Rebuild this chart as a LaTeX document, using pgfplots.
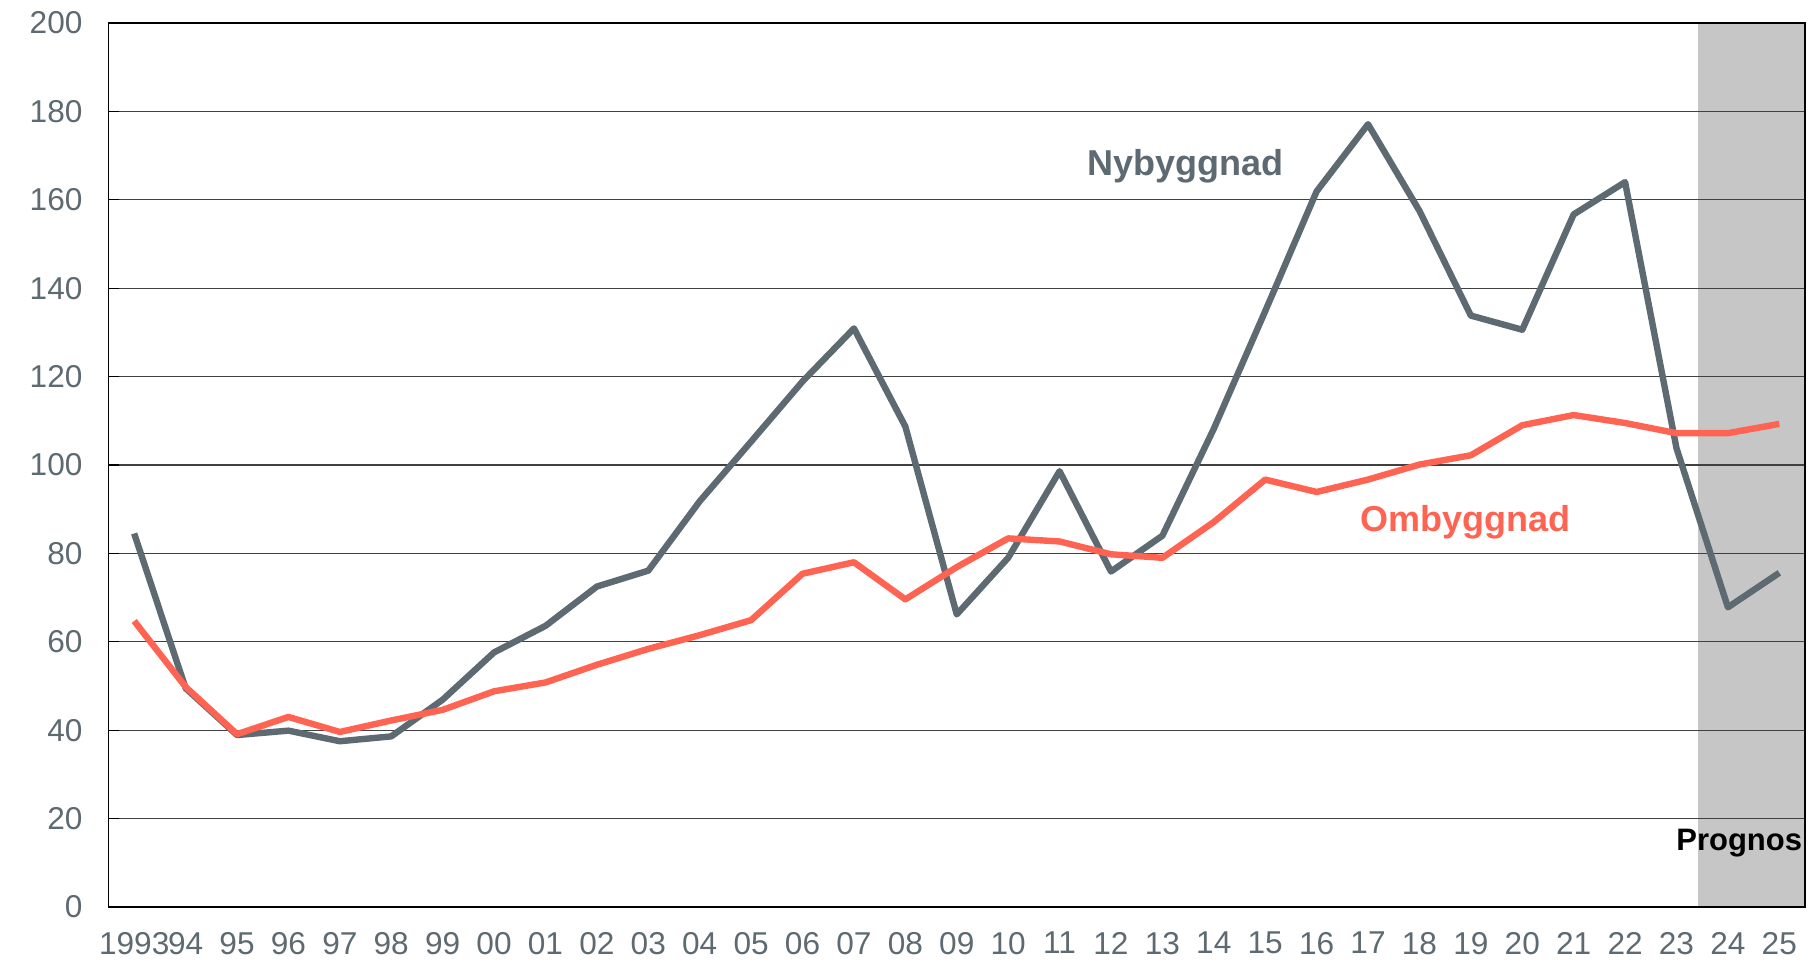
\documentclass[border=0pt]{standalone}
\usepackage{fontspec}
\setmainfont{Liberation Sans}
\usepackage{pgfplots}
\pgfplotsset{compat=1.18}
\definecolor{nyb}{HTML}{5E6A71}
\definecolor{omb}{HTML}{FF6352}
\definecolor{tickc}{HTML}{5E6A71}
\definecolor{prog}{HTML}{C6C6C6}
\begin{document}
\begin{tikzpicture}
\begin{axis}[
 set layers=standard,
 scale only axis, width=848.25bp, height=442bp,
 at={(0,0)}, anchor=south west,
 xmin=-0.5, xmax=32.5, ymin=0, ymax=200,
 ytick={0,20,...,200},
 xtick={0,...,32},
 xticklabels={1993,94,95,96,97,98,99,00,01,02,03,04,05,06,07,08,09,10,11,12,13,14,15,16,17,18,19,20,21,22,23,24,25},
 xtick style={draw=none},
 extra x ticks={0.5,1.5,...,31.5},
 extra x tick labels={},
 extra x tick style={major tick length=5.5bp, tick style={draw=black!80, line width=0.6bp}},
 tick pos=left,
 ymajorgrids, grid style={line width=0.6bp, color=black!75},
 ytick style={black, line width=0.6bp}, major tick length=5bp,
 tick align=inside,
 ticklabel style={font=\fontsize{15.8bp}{19bp}\selectfont, text=tickc},
 /pgf/number format/assume math mode=true,
 yticklabel style={xshift=-9.5bp},
 xticklabel style={yshift=-9bp},
 axis line style={line width=0.8bp},
]
\addplot[on layer=axis background, fill=prog, draw=none] coordinates {(30.42,200) (32.5,200)} \closedcycle;
\addplot[nyb, line width=3.2bp, line join=round] coordinates {
(0,84.5)(1,49.5)(2,38.9)(3,39.9)(4,37.5)(5,38.6)(6,46.9)(7,57.6)(8,63.6)(9,72.5)(10,76.1)
(11,91.8)(12,105.3)(13,118.9)(14,130.9)(15,108.7)(16,66.2)(17,79.0)(18,98.6)(19,75.9)(20,84.0)
(21,108.2)(22,134.8)(23,161.9)(24,177.1)(25,157.5)(26,133.8)(27,130.6)(28,156.7)(29,164.0)(30,103.8)
(31,67.8)(32,75.6)};
\addplot[omb, line width=3.2bp, line join=round] coordinates {
(0,64.7)(1,49.8)(2,39.1)(3,43.0)(4,39.6)(5,42.2)(6,44.6)(7,48.8)(8,50.8)(9,54.8)(10,58.4)
(11,61.5)(12,64.9)(13,75.4)(14,78.0)(15,69.6)(16,76.9)(17,83.4)(18,82.7)(19,79.8)(20,79.0)
(21,87.1)(22,96.7)(23,93.9)(24,96.7)(25,100.1)(26,102.2)(27,109.0)(28,111.3)(29,109.5)(30,107.2)
(31,107.2)(32,109.3)};
\node[anchor=base, font=\bfseries\fontsize{18bp}{21bp}\selectfont, text=nyb] at (axis cs:20.45,165.6) {Nybyggnad};
\node[font=\bfseries\fontsize{18bp}{21bp}\selectfont, text=omb] at (axis cs:25.9,87.0) {Ombyggnad};
\node[anchor=base east, inner sep=0pt, font=\bfseries\fontsize{15.5bp}{18bp}\selectfont, text=black] at (axis cs:32.45,12.7) {Prognos};
\end{axis}
\pgfresetboundingbox
\path[use as bounding box] (-54.25bp,-28bp) rectangle (850.25bp,453.5bp);
\end{tikzpicture}
\end{document}
